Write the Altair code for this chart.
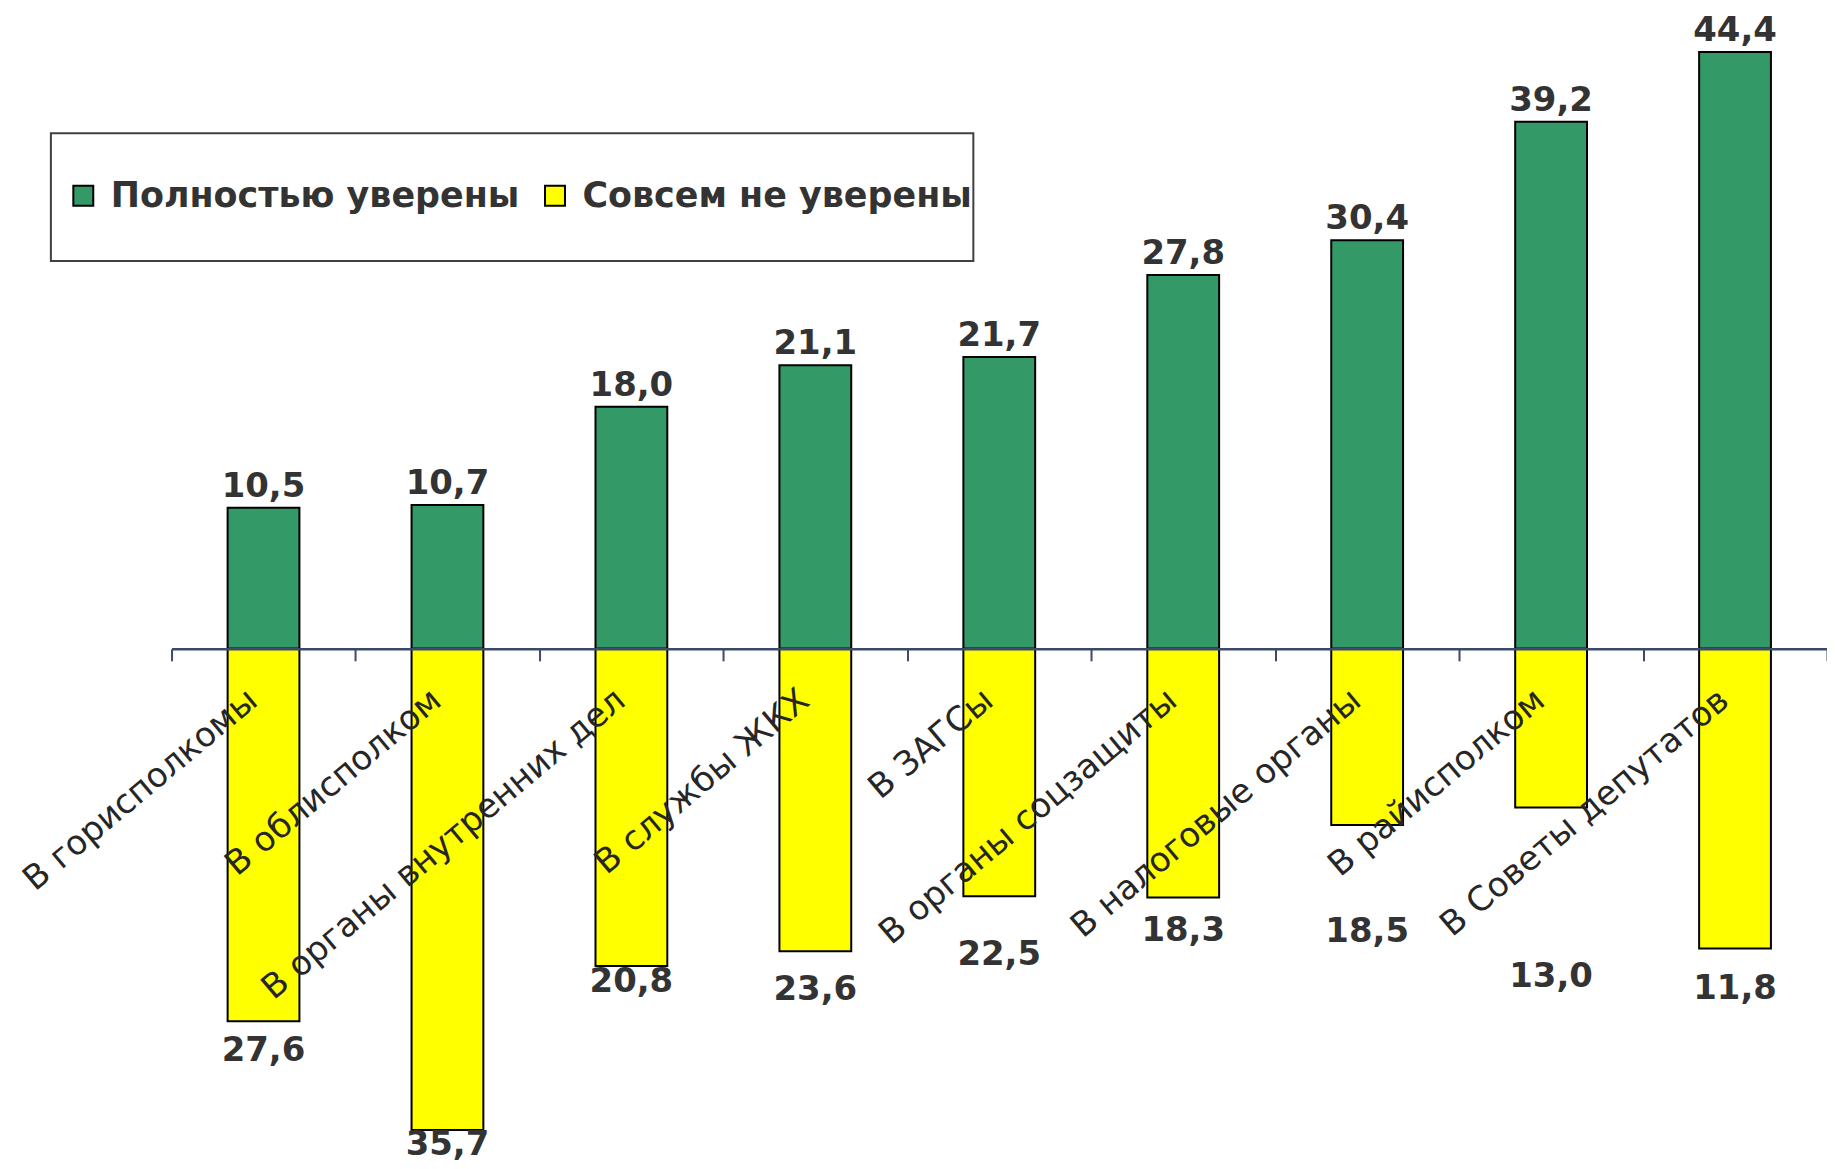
import altair as alt
import pandas as pd

categories = [
    "В горисполкомы",
    "В облисполком",
    "В органы внутренних дел",
    "В службы ЖКХ",
    "В ЗАГСы",
    "В органы соцзащиты",
    "В налоговые органы",
    "В райисполком",
    "В Советы депутатов",
]
series_names = ["Полностью уверены", "Совсем не уверены"]

# green series (bar length = label)
confident = [10.5, 10.7, 18.0, 21.1, 21.7, 27.8, 30.4, 39.2, 44.4]
# yellow series: bar lengths as drawn in the picture
not_confident_bar = [27.7, 35.8, 23.6, 22.5, 18.4, 18.5, 13.1, 11.8, 22.3]
# yellow series: data label texts as printed
not_confident_labels = ["27,6", "35,7", "20,8", "23,6", "22,5", "18,3", "18,5", "13,0", "11,8"]
# where each yellow label sits (value units below zero)
not_confident_label_depth = [29.9, 36.9, 24.8, 25.4, 22.8, 21.0, 21.1, 24.4, 25.3]

rows = []
for c, g, y in zip(categories, confident, not_confident_bar):
    rows.append({"category": c, "series": series_names[0], "value": g})
    rows.append({"category": c, "series": series_names[1], "value": -y})
bars_df = pd.DataFrame(rows)

green_lbl_df = pd.DataFrame({"category": categories, "value": confident})
yellow_lbl_df = pd.DataFrame({
    "category": categories,
    "pos": [-d for d in not_confident_label_depth],
    "label": not_confident_labels,
})

W, H = 1660, 1160
ZERO_PX = 641
PX_PER_UNIT = 13.48
Y_DOMAIN = [-(H - ZERO_PX) / PX_PER_UNIT, ZERO_PX / PX_PER_UNIT]
AXIS_COLOR = "#3b4a6b"

x_enc = alt.X(
    "category:N",
    sort=categories,
    scale=alt.Scale(paddingInner=0, paddingOuter=0),
    axis=alt.Axis(
        orient="bottom",
        offset=-(H - ZERO_PX),
        zindex=1,
        title=None,
        grid=False,
        domainColor=AXIS_COLOR,
        domainWidth=2.5,
        tickColor=AXIS_COLOR,
        tickWidth=2,
        tickSize=12,
        tickBand="extent",
        labelAngle=-40,
        labelAlign="right",
        labelBaseline="top",
        labelPadding=22,
        labelOffset=-22,
        labelFont="DejaVu Sans",
        labelFontSize=34,
        labelColor="#262626",
        labelLimit=1000,
        labelOverlap=False,
        labelFlush=False,
        labelBound=False,
    ),
)
y_scale = alt.Scale(domain=Y_DOMAIN, nice=False, zero=False)

legend_box = alt.Chart(pd.DataFrame({"k": [0]})).mark_rect(
    fill="white", stroke="#404040", strokeWidth=2
).encode(
    x=alt.value(-121), x2=alt.value(804), y=alt.value(124), y2=alt.value(252)
)

bars = alt.Chart(bars_df).mark_bar(size=72, stroke="black", strokeWidth=2).encode(
    x=x_enc,
    y=alt.Y("value:Q", scale=y_scale, axis=None),
    color=alt.Color(
        "series:N",
        scale=alt.Scale(domain=series_names, range=["#339966", "#FFFF00"]),
        legend=alt.Legend(
            orient="none",
            legendX=-106,
            legendY=169,
            direction="horizontal",
            title=None,
            labelFont="DejaVu Sans",
            labelFontWeight="bold",
            labelFontSize=35,
            labelColor="#333333",
            labelLimit=1000,
            labelOffset=10,
            symbolType="square",
            symbolSize=400,
            symbolStrokeColor="black",
            symbolStrokeWidth=2,
            columnPadding=18,
            padding=0,
        ),
    ),
)

green_text = alt.Chart(green_lbl_df).transform_calculate(
    lbl="replace(format(datum.value, '.1f'), '.', ',')"
).mark_text(
    font="DejaVu Sans", fontWeight="bold", fontSize=34, color="#333333",
    baseline="alphabetic", dy=-11,
).encode(
    x=x_enc,
    y=alt.Y("value:Q", scale=y_scale, axis=None),
    text="lbl:N",
)

yellow_text = alt.Chart(yellow_lbl_df).mark_text(
    font="DejaVu Sans", fontWeight="bold", fontSize=34, color="#333333",
    baseline="middle",
).encode(
    x=x_enc,
    y=alt.Y("pos:Q", scale=y_scale, axis=None),
    text="label:N",
)

chart = alt.layer(legend_box, bars, green_text, yellow_text).properties(
    width=W,
    height=H,
    background="white",
    autosize=alt.AutoSizeParams(type="none"),
    padding={"left": 164, "top": 0, "right": 0, "bottom": 0},
).configure_view(strokeWidth=0, stroke="transparent")

chart.save("out.html", embed_options={"renderer": "svg", "actions": False})
